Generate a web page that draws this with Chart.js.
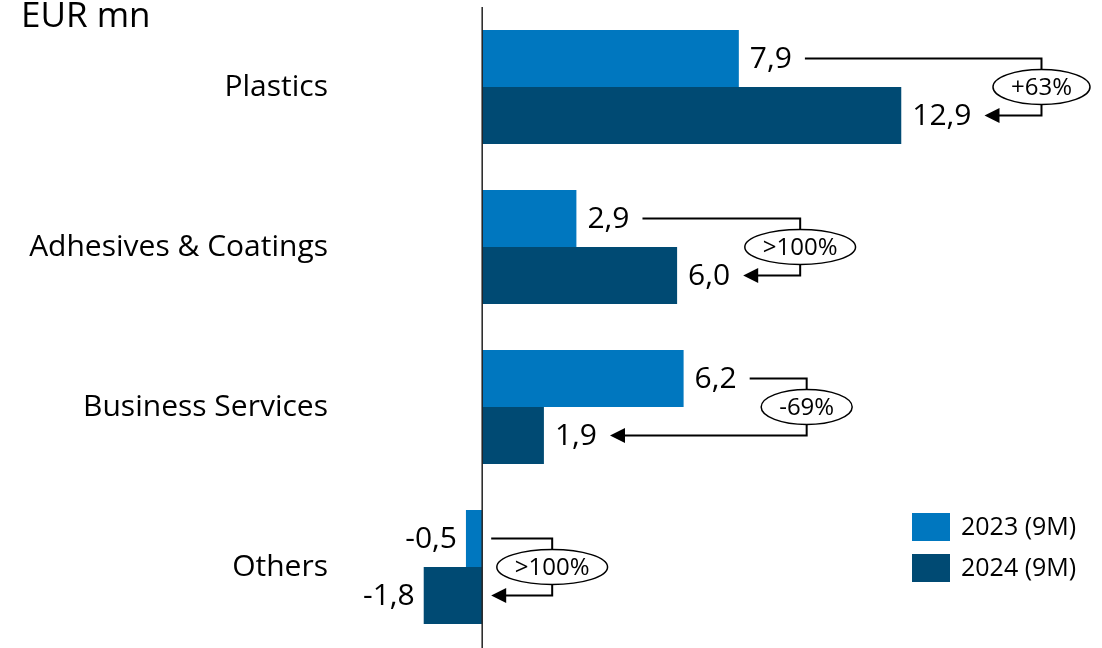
<!DOCTYPE html>
<html>
<head>
<meta charset="utf-8">
<script src="https://cdn.jsdelivr.net/npm/chart.js@4"></script>
<style>
  html, body { margin: 0; padding: 0; background: #fff; }
  #wrap { width: 1102px; height: 648px; position: relative; }
</style>
</head>
<body>
<div id="wrap"><canvas id="myChart"></canvas></div>
<script>
const categories = ['Plastics', 'Adhesives & Coatings', 'Business Services', 'Others'];
const seriesLabels = ['2023 (9M)', '2024 (9M)'];
const values2023 = [7.9, 2.9, 6.2, -0.5];
const values2024 = [12.9, 6.0, 1.9, -1.8];
const changeLabels = ['+63%', '>100%', '-69%', '>100%'];
const unitLabel = 'EUR mn';

const FONT = "'Open Sans', 'Noto Sans', sans-serif";
const colors = ['#0077bf', '#004a73'];

function fmt(v) {
  return v.toFixed(1).replace('.', ',');
}

// value labels, change bubbles, zero line and legend
const extras = {
  id: 'extras',
  afterDraw(chart) {
    const ctx = chart.ctx;
    const xs = chart.scales.x;
    const area = chart.chartArea;
    const zeroX = xs.getPixelForValue(0);
    ctx.save();

    // zero line
    ctx.strokeStyle = '#222';
    ctx.lineWidth = 1.5;
    ctx.beginPath();
    ctx.moveTo(zeroX, area.top);
    ctx.lineTo(zeroX, chart.height);
    ctx.stroke();

    // unit
    ctx.fillStyle = '#000';
    ctx.font = '35px ' + FONT;
    ctx.textAlign = 'left';
    ctx.textBaseline = 'alphabetic';
    ctx.fillText(unitLabel, 21, 27);

    ctx.textBaseline = 'middle';
    const metas = [chart.getDatasetMeta(0), chart.getDatasetMeta(1)];

    categories.forEach((c, j) => {
      const ends = [];
      ctx.font = '30px ' + FONT;
      ctx.fillStyle = '#000';
      metas.forEach((meta, i) => {
        const bar = meta.data[j];
        const v = chart.data.datasets[i].data[j];
        const txt = fmt(v);
        if (v >= 0) {
          ctx.textAlign = 'left';
          ctx.fillText(txt, bar.x + 11, bar.y + 1);
          ends.push(bar.x + 11 + ctx.measureText(txt).width);
        } else {
          ctx.textAlign = 'right';
          ctx.fillText(txt, bar.x - 9, bar.y + 1);
          ends.push(zeroX - 4);
        }
      });
      const connX = Math.max(...ends, zeroX) + 70;
      const y1 = metas[0].data[j].y;
      const y2 = metas[1].data[j].y;
      const yc = (y1 + y2) / 2;

      ctx.font = '24px ' + FONT;
      const tw = ctx.measureText(changeLabels[j]).width;
      const rx = tw / 2 + 18;
      const ry = 17.5;

      ctx.strokeStyle = '#000';
      ctx.lineWidth = 2;
      ctx.beginPath();
      ctx.moveTo(ends[0] + 13, y1);
      ctx.lineTo(connX, y1);
      ctx.lineTo(connX, yc - ry);
      ctx.moveTo(connX, yc + ry);
      ctx.lineTo(connX, y2);
      ctx.lineTo(ends[1] + 26, y2);
      ctx.stroke();

      // arrow head
      ctx.beginPath();
      ctx.moveTo(ends[1] + 13, y2);
      ctx.lineTo(ends[1] + 28, y2 - 7.5);
      ctx.lineTo(ends[1] + 28, y2 + 7.5);
      ctx.closePath();
      ctx.fill();

      // bubble
      ctx.fillStyle = '#fff';
      ctx.lineWidth = 1.5;
      ctx.beginPath();
      ctx.ellipse(connX, yc, rx, ry, 0, 0, Math.PI * 2);
      ctx.fill();
      ctx.stroke();
      ctx.fillStyle = '#000';
      ctx.textAlign = 'center';
      ctx.fillText(changeLabels[j], connX, yc + 1);
    });

    // legend
    ctx.font = '25px ' + FONT;
    ctx.textAlign = 'left';
    chart.data.datasets.forEach((ds, i) => {
      const top = 513 + i * 41;
      ctx.fillStyle = ds.backgroundColor;
      ctx.fillRect(912, top, 38, 28);
      ctx.fillStyle = '#000';
      ctx.fillText(ds.label, 961, top + 15);
    });
    ctx.restore();
  }
};

new Chart(document.getElementById('myChart'), {
  type: 'bar',
  data: {
    labels: categories,
    datasets: [
      { label: seriesLabels[0], data: values2023, backgroundColor: colors[0] },
      { label: seriesLabels[1], data: values2024, backgroundColor: colors[1] }
    ]
  },
  options: {
    indexAxis: 'y',
    responsive: true,
    maintainAspectRatio: false,
    animation: false,
    categoryPercentage: 0.7125,
    barPercentage: 1,
    layout: { padding: { top: 7, bottom: 1, right: 165, left: 0 } },
    plugins: { legend: { display: false }, tooltip: { enabled: false } },
    scales: {
      x: { display: false, min: -4.5, max: 14 },
      y: {
        grid: { display: false },
        border: { display: false },
        ticks: { color: '#000', font: { family: FONT, size: 30 }, padding: 0 },
        afterFit(scale) {
          scale.width = 336;
          scale.paddingTop = 0;
          scale.paddingBottom = 0;
        }
      }
    }
  },
  plugins: [extras]
});
</script>
</body>
</html>
